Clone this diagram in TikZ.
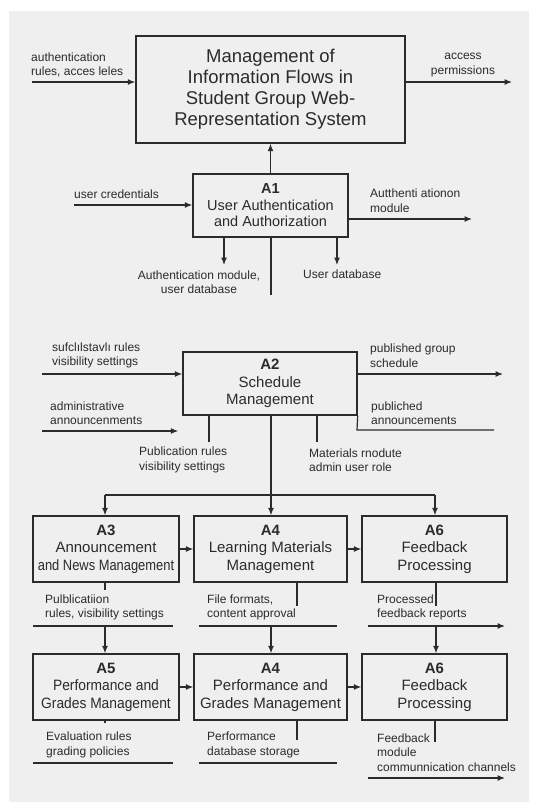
\documentclass[tikz,border=0pt]{standalone}
\usepackage{fontspec}
\usepackage{graphicx}
\setmainfont{Liberation Sans}
\usetikzlibrary{arrows.meta}
\definecolor{bgc}{HTML}{EFEFEF}
\definecolor{ink}{HTML}{2B2B2B}
\begin{document}
\begin{tikzpicture}[x=1pt,y=-1pt,
  every node/.style={text=ink},
  box/.style={draw=ink,line width=1.4pt,inner sep=0pt,align=center,font=\fontsize{15}{17.5}\selectfont},
  lbl/.style={inner sep=0pt,align=left,anchor=west,font=\fontsize{12}{14.5}\selectfont},
  lblc/.style={inner sep=0pt,align=center,font=\fontsize{12}{14.5}\selectfont},
  ln/.style={draw=ink,line width=1.2pt},
  arr/.style={ln,-{Latex[length=7.5pt,width=6pt]}}]
\useasboundingbox (0,0) rectangle (537,809);
\fill[white] (0,0) rectangle (537,809);
\fill[bgc] (9,11) rectangle (529,802);

% boxes
\node[box,minimum width=269pt,minimum height=107pt,font=\fontsize{18.5}{21}\selectfont] (main) at (270.5,89.5)
  {Management of\\Information Flows in\\Student Group Web-\\Representation System};
\node[box,minimum width=155pt,minimum height=63pt,font=\fontsize{14.5}{16.5}\selectfont] (a1) at (270.5,205.5)
  {\textbf{A1}\\User Authentication\\and Authorization};
\node[box,minimum width=174pt,minimum height=63pt] (a2) at (270,383.5)
  {\textbf{A2}\\Schedule\\Management};
\node[box,minimum width=146pt,minimum height=66pt] (a3) at (106,549)
  {\textbf{A3}\\Announcement\\\scalebox{0.86}[1]{and News Management}};
\node[box,minimum width=153pt,minimum height=66pt] (a4) at (270.5,549)
  {\textbf{A4}\\Learning Materials\\Management};
\node[box,minimum width=145pt,minimum height=66pt] (a6) at (434.5,549)
  {\textbf{A6}\\Feedback\\Processing};
\node[box,minimum width=146pt,minimum height=66pt] (a5) at (106,687)
  {\textbf{A5}\\\scalebox{0.92}[1]{Performance and}\\\scalebox{0.92}[1]{Grades Management}};
\node[box,minimum width=153pt,minimum height=66pt] (a4b) at (270.5,687)
  {\textbf{A4}\\Performance and\\Grades Management};
\node[box,minimum width=145pt,minimum height=66pt] (a6b) at (434.5,687)
  {\textbf{A6}\\Feedback\\Processing};

% labels
\node[lbl] (l1) at (31,65) {authentication\\rules, acces leles};
\node[lblc] (l2) at (463,65) {access\\permissions};
\node[lbl] (l3) at (74,194) {user credentials};
\node[lbl] (l4) at (370,200.5) {Autthenti ationon\\module};
\node[lblc] (l5) at (199,282) {Authentication module,\\user database};
\node[lbl] (l6) at (303,274) {User database};
\node[lbl] (l7) at (52,355.5) {sufclılstavlı rules\\visibility settings};
\node[lbl] (l8) at (50,413) {administrative\\announcenments};
\node[lbl] (l9) at (370,355.5) {published group\\schedule};
\node[lbl] (l10) at (371,413) {publiched\\announcements};
\node[lbl] (l11) at (139,460) {Publication rules\\visibility settings};
\node[lbl] (l12) at (309,460) {Materials rnodute\\admin user role};
\node[lbl] (l13) at (45,607.5) {Pulblicatiion\\rules, visibility settings};
\node[lbl] (l14) at (207,607.5) {File formats,\\content approval};
\node[lbl] (l15) at (377,607.5) {Processed\\feedback reports};
\node[lbl] (l16) at (46,745) {Evaluation rules\\grading policies};
\node[lbl] (l17) at (207,745) {Performance\\database storage};
\node[lbl] (l18) at (377,752.5) {Feedback\\module\\communnication channels};

% free-end coordinates
\coordinate (m-in) at (32,82);
\coordinate (m-out) at (512,82);
\coordinate (a1-in) at (74,205);
\coordinate (a1-out) at (472,219);
\coordinate (a1-d1) at (224,265);
\coordinate (a1-d2) at (271,295);
\coordinate (a1-d3) at (337,265);
\coordinate (a2-in1) at (42,374);
\coordinate (a2-in2) at (42,431);
\coordinate (a2-out1) at (503,374);
\coordinate (a2-c1) at (357,430);
\coordinate (a2-out2) at (494,430);
\coordinate (a2-d1) at (209,442);
\coordinate (a2-d3) at (317,442);
\coordinate (bus) at (271,495);
\coordinate (busL) at (105,495);
\coordinate (busR) at (435,495);
% row 1 under
\coordinate (r1a) at (105,626);
\coordinate (r1aL) at (33,626);
\coordinate (r1aR) at (173,626);
\coordinate (r1at) at (105,590);
\coordinate (r1b) at (271,626);
\coordinate (r1bL) at (199,626);
\coordinate (r1bR) at (337,626);
\coordinate (r1bt) at (297,606);
\coordinate (r1c) at (436,626);
\coordinate (r1cL) at (368,626);
\coordinate (r1cR) at (505,626);
\coordinate (r1ct) at (436,606);
% row 2 under
\coordinate (r2aL) at (33,763);
\coordinate (r2aR) at (173,763);
\coordinate (r2at) at (105,723);
\coordinate (r2bL) at (199,763);
\coordinate (r2bR) at (337,763);
\coordinate (r2bt) at (297,740);
\coordinate (r2ct) at (435,742);
\coordinate (r2cL) at (368,778);
\coordinate (r2cR) at (505,778);

% main
\draw[arr] (m-in) -- (main.west |- m-in);
\draw[arr] (main.east |- m-out) -- (m-out);
\draw[arr] (a1.north -| main.south) -- (main.south);
% A1
\draw[arr] (a1-in) -- (a1.west |- a1-in);
\draw[arr] (a1.east |- a1-out) -- (a1-out);
\draw[arr] (a1.south -| a1-d1) -- (a1-d1);
\draw[ln] (a1.south -| a1-d2) -- (a1-d2);
\draw[arr] (a1.south -| a1-d3) -- (a1-d3);
% A2
\draw[arr] (a2-in1) -- (a2.west |- a2-in1);
\draw[arr] (a2-in2) -- ([xshift=-4pt]a2.west |- a2-in2);
\draw[arr] (a2.east |- a2-out1) -- (a2-out1);
\draw[ln] (a2.south east) -- (a2-c1) -- (a2-out2);
\draw[ln] (a2.south -| a2-d1) -- (a2-d1);
\draw[ln] (a2.south -| a2-d3) -- (a2-d3);
\draw[ln] (a2.south -| bus) -- (bus);
\draw[ln] (busL) -- (busR);
\draw[arr] (busL) -- (a3.north -| busL);
\draw[arr] (bus) -- (a4.north -| bus);
\draw[arr] (busR) -- (a6.north -| busR);
% row 1 horizontal
\draw[arr] (a3.east) -- (a4.west |- a3.east);
\draw[arr] (a4.east) -- (a6.west |- a4.east);
% row 1 under
\draw[ln] (a3.south -| r1at) -- (r1at);
\draw[ln] (r1aL) -- (r1aR);
\draw[arr] (r1a) -- (a5.north -| r1a);
\draw[ln] (a4.south -| r1bt) -- (r1bt);
\draw[ln] (r1bL) -- (r1bR);
\draw[arr] (r1b) -- (a4b.north -| r1b);
\draw[ln] (a6.south -| r1ct) -- (r1ct);
\draw[arr] (r1cL) -- (r1cR);
\draw[arr] (r1c) -- (a6b.north -| r1c);
% row 2 horizontal
\draw[arr] (a5.east) -- (a4b.west |- a5.east);
\draw[arr] (a4b.east) -- (a6b.west |- a4b.east);
% row 2 under
\draw[ln] (a5.south -| r2at) -- (r2at);
\draw[ln] (r2aL) -- (r2aR);
\draw[ln] (a4b.south -| r2bt) -- (r2bt);
\draw[ln] (r2bL) -- (r2bR);
\draw[ln] (a6b.south -| r2ct) -- (r2ct);
\draw[arr] (r2cL) -- (r2cR);
\end{tikzpicture}
\end{document}
